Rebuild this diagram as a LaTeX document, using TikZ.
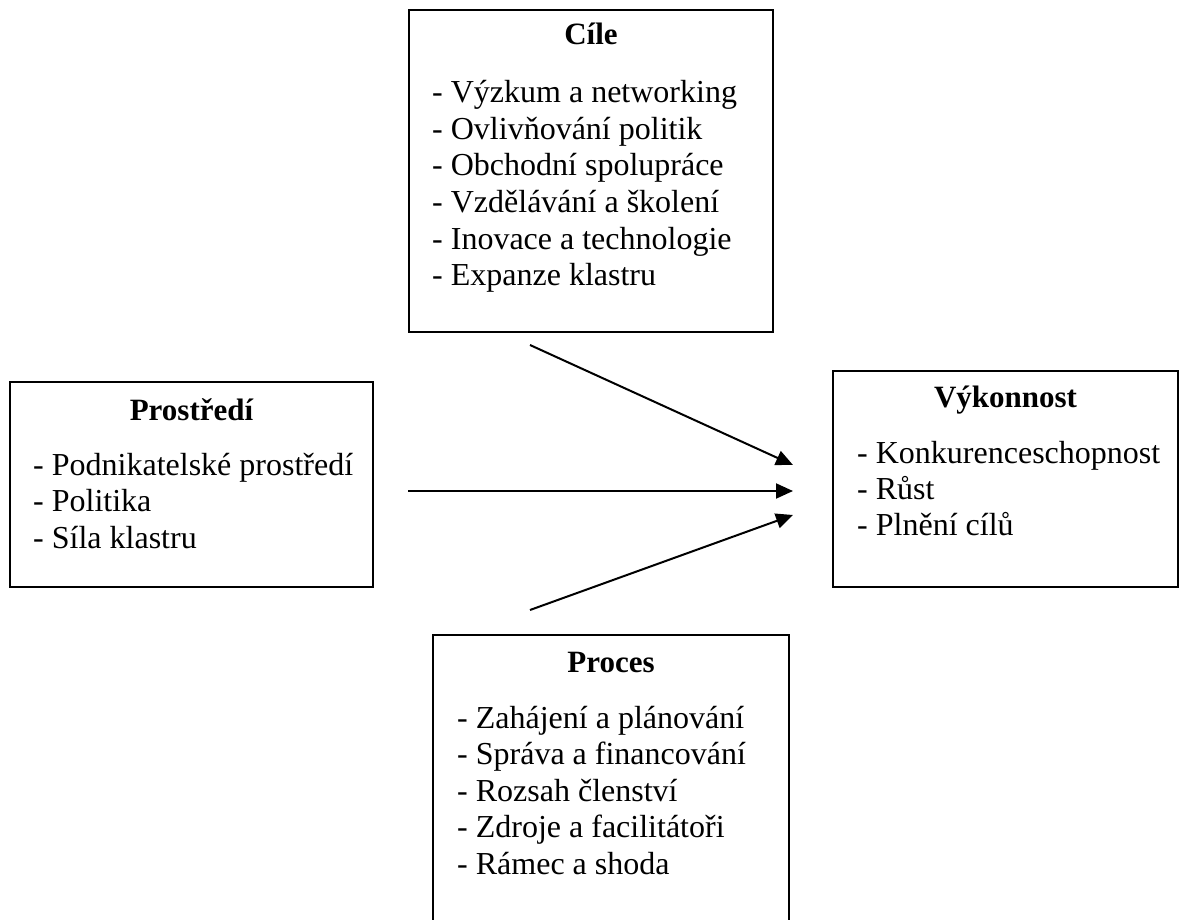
\documentclass[tikz,border=0pt]{standalone}
\usepackage{fontspec}
\setmainfont{Liberation Serif}
\usetikzlibrary{arrows.meta}
\begin{document}
\begin{tikzpicture}[x={(1pt,0pt)}, y={(0pt,-1pt)},
  box/.style={draw=black, line width=2pt, inner sep=0pt, rectangle},
  title/.style={font=\fontsize{31}{36}\selectfont\bfseries, anchor=base, inner sep=0pt},
  item/.style={font=\fontsize{32}{36}\selectfont, anchor=base west, inner sep=0pt},
  conn/.style={line width=2pt, draw=black, -{Triangle[length=17pt,width=15pt]}}]
\useasboundingbox (0,0) rectangle (1180,920);
\clip (0,0) rectangle (1180,920);
% boxes
\node[box, minimum width=364pt, minimum height=322pt] (cile) at (591,171) {};
\node[box, minimum width=363pt, minimum height=205pt] (prostredi) at (191.5,484.5) {};
\node[box, minimum width=345pt, minimum height=216pt] (vykonnost) at (1005.5,479) {};
\node[box, minimum width=356pt, minimum height=305pt] (proces) at (611,787.5) {};
% titles
\node[title] (cileT) at (591,45) {Cíle};
\node[title] (prostrediT) at (191.5,420) {Prostředí};
\node[title] (vykonnostT) at (1005.5,407) {Výkonnost};
\node[title] (procesT) at (611,672) {Proces};
% items
\foreach \t [count=\i] in {{- Výzkum a networking},{- Ovlivňování politik},{- Obchodní spolupráce},{- Vzdělávání a školení},{- Inovace a technologie},{- Expanze klastru}}
  \node[item] (cile-\i) at (432,{103+36.5*(\i-1)}) {\t};
\foreach \t [count=\i] in {{- Podnikatelské prostředí},{- Politika},{- Síla klastru}}
  \node[item] (prostredi-\i) at (33,{475+36.5*(\i-1)}) {\t};
\foreach \t [count=\i] in {{- Konkurenceschopnost},{- Růst},{- Plnění cílů}}
  \node[item] (vykonnost-\i) at (857,{463+36*(\i-1)}) {\t};
\foreach \t [count=\i] in {{- Zahájení a plánování},{- Správa a financování},{- Rozsah členství},{- Zdroje a facilitátoři},{- Rámec a shoda}}
  \node[item] (proces-\i) at (457,{728+36.5*(\i-1)}) {\t};
% connectors
\coordinate (a1s) at (530,345);
\coordinate (a1e) at (793,465);
\coordinate (a2s) at (408,491);
\coordinate (a2e) at (793,491);
\coordinate (a3s) at (530,610);
\coordinate (a3e) at (793,515);
\draw[conn] (a1s) -- (a1e);
\draw[conn] (a2s) -- (a2e);
\draw[conn] (a3s) -- (a3e);
\end{tikzpicture}
\end{document}
